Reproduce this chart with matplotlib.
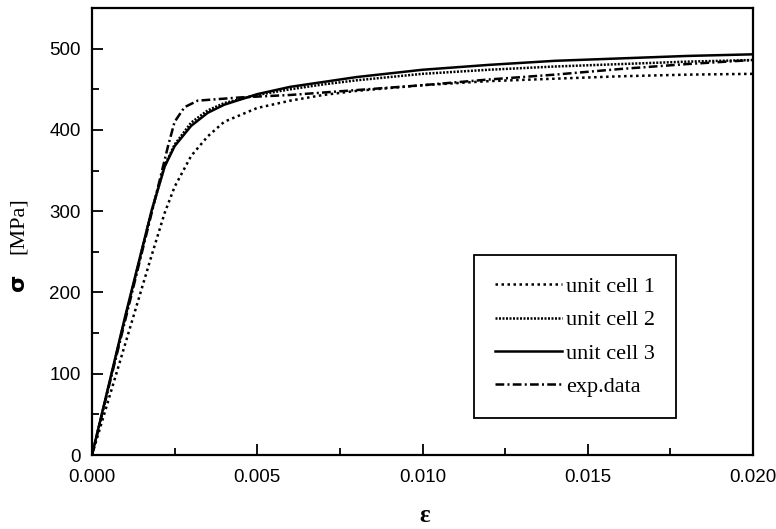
import numpy as np
import matplotlib
matplotlib.use("Agg")
from matplotlib import pyplot as plt

# andmed (loetud pildilt)
eps_uc1 = [0, 0.001, 0.0018, 0.0022, 0.0025, 0.003, 0.0035, 0.004, 0.005, 0.006, 0.007, 0.008, 0.010, 0.012, 0.014, 0.016, 0.018, 0.020]
sig_uc1 = [0, 136, 245, 298, 330, 368, 392, 410, 427, 436, 443, 448, 455, 460, 463, 466, 468, 469]

eps_uc2 = [0, 0.001, 0.0018, 0.0022, 0.0025, 0.003, 0.0035, 0.004, 0.005, 0.006, 0.007, 0.008, 0.010, 0.012, 0.014, 0.016, 0.018, 0.020]
sig_uc2 = [0, 168, 300, 356, 382, 409, 424, 433, 443, 450, 456, 461, 469, 474, 478, 481, 484, 486]

eps_uc3 = [0, 0.001, 0.0018, 0.0022, 0.0025, 0.003, 0.0035, 0.004, 0.005, 0.006, 0.007, 0.008, 0.010, 0.012, 0.014, 0.016, 0.018, 0.020]
sig_uc3 = [0, 170, 300, 355, 380, 405, 421, 431, 444, 453, 459, 465, 474, 480, 485, 488, 491, 493]

eps_exp = [0, 0.001, 0.0018, 0.0023, 0.0025, 0.0028, 0.0032, 0.0045, 0.006, 0.007, 0.008, 0.010, 0.012, 0.014, 0.016, 0.018, 0.020]
sig_exp = [0, 165, 297, 380, 410, 428, 436, 440, 443, 446, 449, 455, 462, 468, 475, 481, 486]

labels = ["unit cell 1", "unit cell 2", "unit cell 3", "exp.data"]

fig = plt.figure(figsize=(7.76, 5.29), dpi=100)
ax = fig.add_axes([92/776, 1-455/529, 661/776, 447/529])

lw = 1.8
ax.plot(eps_uc1, sig_uc1, color="black", lw=lw, ls=(0, (1.0, 1.4)), label=labels[0])
ax.plot(eps_uc2, sig_uc2, color="black", lw=lw, ls=(0, (0.8, 0.6)), label=labels[1])
ax.plot(eps_uc3, sig_uc3, color="black", lw=lw, ls="-", label=labels[2])
ax.plot(eps_exp, sig_exp, color="black", lw=lw, ls=(0, (3.5, 1.3, 0.8, 1.3)), label=labels[3])

ax.set_xlim(0, 0.020)
ax.set_ylim(0, 550)
ax.set_xticks([0.000, 0.005, 0.010, 0.015, 0.020])
ax.set_xticklabels(["0.000", "0.005", "0.010", "0.015", "0.020"])
ax.set_xticks(np.arange(0, 0.0201, 0.0025), minor=True)
ax.set_yticks([0, 100, 200, 300, 400, 500])
ax.set_yticks(np.arange(0, 551, 50), minor=True)
ax.tick_params(which="both", direction="in", top=False, right=False, width=1.3)
ax.tick_params(which="major", length=8, labelsize=13.5)
ax.tick_params(axis="x", which="major", pad=10)
ax.tick_params(axis="y", which="major", pad=8)
ax.tick_params(which="minor", length=5)
for sp in ax.spines.values():
    sp.set_linewidth(1.6)
for t in ax.get_xticklabels() + ax.get_yticklabels():
    t.set_family("Liberation Sans")

leg = ax.legend(loc="upper left", bbox_to_anchor=(0.578, 0.447), fancybox=False,
                edgecolor="black", framealpha=1, handlelength=3.0, handletextpad=0.2,
                labelspacing=0.58, borderpad=0.95, borderaxespad=0,
                prop={"family": "Liberation Serif", "size": 16})
leg.get_frame().set_linewidth(1.3)

fig.text(18/776, 1-282/529, "σ", rotation=90, ha="center", va="center",
         fontsize=16, fontweight="bold", family="DejaVu Sans")
fig.text(18/776, 1-226/529, "[MPa]", rotation=90, ha="center", va="center",
         fontsize=16, family="Liberation Serif")
fig.text(425/776, 1-515/529, "ε", ha="center", va="center",
         fontsize=18, fontweight="bold", family="Liberation Serif")

fig.savefig("out.png", dpi=100)
